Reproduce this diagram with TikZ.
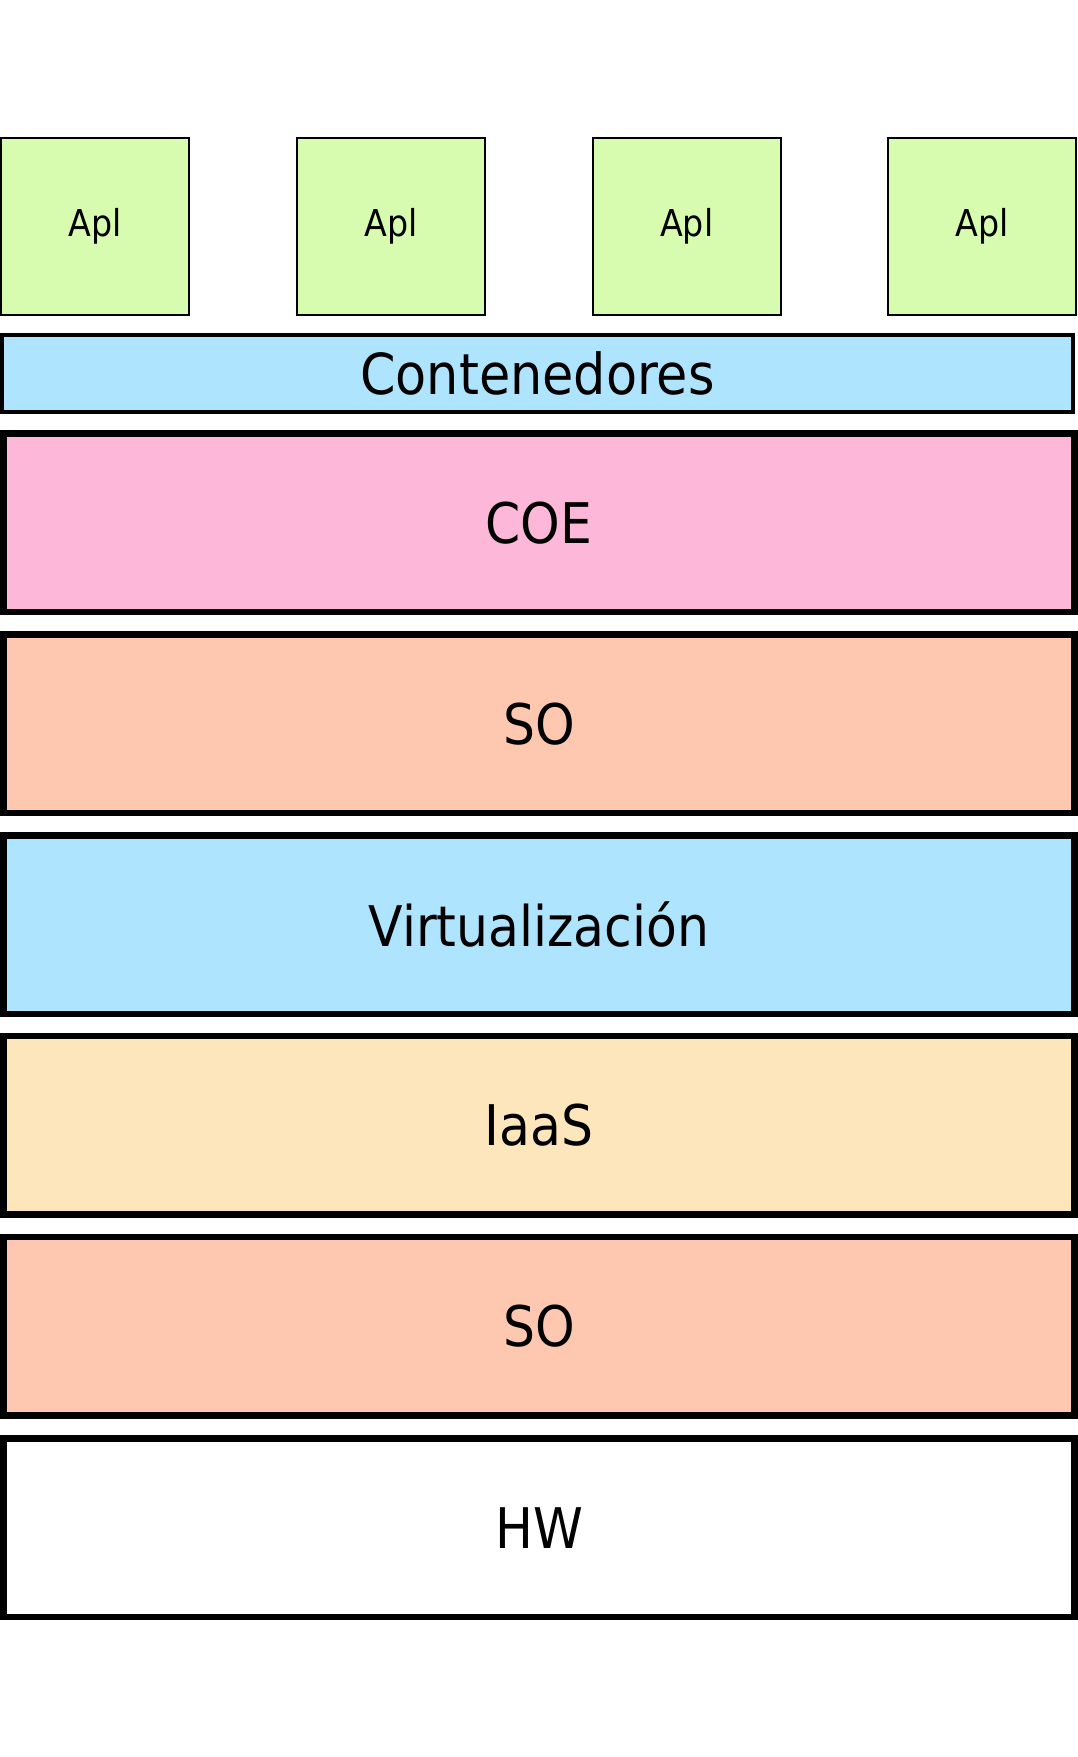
\documentclass[tikz,border=0pt]{standalone}
\usepackage{fontspec}
\setmainfont{DejaVu Sans Condensed}
\definecolor{aplgreen}{RGB}{215,252,176}
\definecolor{skyblue}{RGB}{175,228,254}
\definecolor{coepink}{RGB}{253,183,216}
\definecolor{sosalmon}{RGB}{253,199,176}
\definecolor{iaasbeige}{RGB}{253,230,188}
\begin{document}
\begin{tikzpicture}[x=1pt,y=-1pt,
  aplbox/.style={draw=black, line width=2pt, fill=aplgreen, minimum width=188pt, minimum height=177pt, inner sep=0pt, font=\fontsize{37}{40}\selectfont},
  contbox/.style={draw=black, line width=4pt, fill=skyblue, minimum width=1071pt, minimum height=77pt, inner sep=0pt, font=\fontsize{56.5}{60}\selectfont},
  layer/.style={draw=black, line width=6.5pt, minimum width=1071.4pt, minimum height=178.5pt, inner sep=0pt, font=\fontsize{56}{60}\selectfont}]
\useasboundingbox (0,0) rectangle (1078,1757);
\node[aplbox] (apl1) at (95,226.5) {Apl};
\node[aplbox] (apl2) at (391,226.5) {Apl};
\node[aplbox] (apl3) at (686.75,226.5) {Apl};
\node[aplbox] (apl4) at (982,226.5) {Apl};
\node[contbox] (cont) at (537.5,373.5) {Contenedores};
\node[layer, fill=coepink] (coe) at (539,522.9) {COE};
\node[layer, fill=sosalmon] (so1) at (539,723.7) {SO};
\node[layer, fill=skyblue] (virt) at (539,924.5) {Virtualización};
\node[layer, fill=iaasbeige] (iaas) at (539,1125.3) {IaaS};
\node[layer, fill=sosalmon] (so2) at (539,1326.1) {SO};
\node[layer, fill=white] (hw) at (539,1527.9) {HW};
\end{tikzpicture}
\end{document}
